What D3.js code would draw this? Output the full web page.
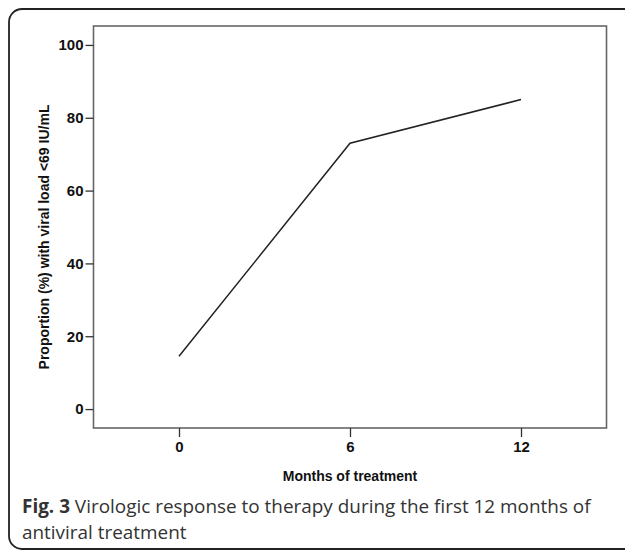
<!DOCTYPE html>
<html>
<head>
<meta charset="utf-8">
<script src="https://cdn.jsdelivr.net/npm/d3@7"></script>
<style>
  body { margin: 0; background: #fff; }
  svg { display: block; }
</style>
</head>
<body>
<svg width="625" height="553"></svg>
<script>
const svg = d3.select("svg");

// Datos
const meses = [0, 6, 12];
const proporcion = [14.5, 73, 85];
const ticksX = [0, 6, 12];
const ticksY = [0, 20, 40, 60, 80, 100];

// Marco exterior redondeado
svg.append("rect")
    .attr("x", 9).attr("y", 9)
    .attr("width", 640).attr("height", 540)
    .attr("rx", 13).attr("ry", 13)
    .attr("fill", "none")
    .attr("stroke", "#222")
    .attr("stroke-width", 1.8);

// Area del grafico
const izq = 93.5, der = 606.5, arriba = 26, abajo = 428;
const xScale = d3.scaleLinear().domain([-3, 15]).range([izq, der]);
const yScale = d3.scaleLinear().domain([-5.2, 105.2]).range([abajo, arriba]);

// Caja del grafico
svg.append("rect")
    .attr("x", izq).attr("y", arriba)
    .attr("width", der - izq).attr("height", abajo - arriba)
    .attr("fill", "none")
    .attr("stroke", "#666")
    .attr("stroke-width", 1.6);

// Eje Y
const ejeY = svg.append("g")
    .attr("transform", `translate(${izq},0)`)
    .call(d3.axisLeft(yScale).tickValues(ticksY).tickSize(8).tickPadding(2));
ejeY.select(".domain").remove();

// Eje X
const ejeX = svg.append("g")
    .attr("transform", `translate(0,${abajo})`)
    .call(d3.axisBottom(xScale).tickValues(ticksX).tickSize(9).tickPadding(4));
ejeX.select(".domain").remove();

svg.selectAll(".tick line").attr("stroke", "#333").attr("stroke-width", 1.3);
svg.selectAll(".tick text")
    .style("font-family", "'Liberation Sans', Arial, sans-serif")
    .style("font-size", "15px")
    .style("font-weight", "bold")
    .attr("fill", "#111");

// Titulos de ejes
svg.append("text")
    .attr("x", xScale(6)).attr("y", 481)
    .attr("text-anchor", "middle")
    .style("font-family", "'Liberation Sans', Arial, sans-serif")
    .style("font-size", "14px")
    .style("font-weight", "bold")
    .attr("fill", "#111")
    .text("Months of treatment");

svg.append("text")
    .attr("transform", `translate(49,${yScale(50) + 10}) rotate(-90)`)
    .attr("text-anchor", "middle")
    .style("font-family", "'Liberation Sans', Arial, sans-serif")
    .style("font-size", "14px")
    .style("font-weight", "bold")
    .attr("fill", "#111")
    .text("Proportion (%) with viral load <69 IU/mL");

// Linea de la serie
const linea = d3.line()
    .x((d, i) => xScale(meses[i]))
    .y(d => yScale(d));

svg.append("path")
    .datum(proporcion)
    .attr("d", linea)
    .attr("fill", "none")
    .attr("stroke", "#222")
    .attr("stroke-width", 1.5);

// Leyenda de la figura
const leyenda = svg.append("text")
    .attr("x", 22).attr("y", 513)
    .style("font-family", "'Open Sans', sans-serif")
    .style("font-size", "18px")
    .attr("fill", "#333");
leyenda.append("tspan").style("font-weight", "bold").text("Fig. 3");
leyenda.append("tspan").text(" Virologic response to therapy during the first 12 months of");

const linea2 = svg.append("text")
    .attr("x", 22).attr("y", 539)
    .style("font-family", "'Open Sans', sans-serif")
    .style("font-size", "18px")
    .attr("fill", "#333")
    .text("antiviral treatment");

// Ajustar tamaño para que la primera linea ocupe el mismo ancho
const ancho = leyenda.node().getComputedTextLength();
const tam = 18 * 569 / ancho;
leyenda.style("font-size", tam + "px");
linea2.style("font-size", tam + "px");
</script>
</body>
</html>
